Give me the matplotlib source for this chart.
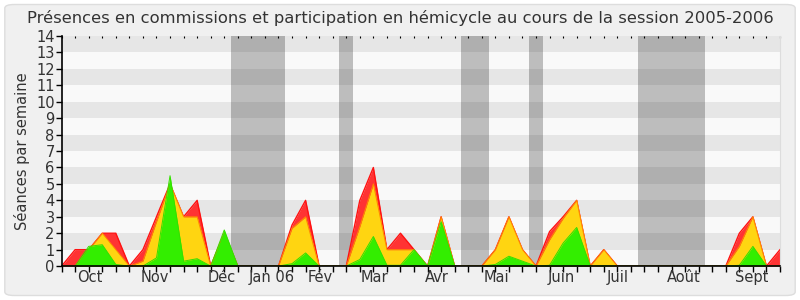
#!/usr/bin/env python3

import numpy as np
import matplotlib
matplotlib.use("Agg")
import matplotlib.pyplot as plt
from matplotlib.patches import FancyBboxPatch

# semaines de la session (0 .. 53)
weeks = np.arange(54)

# présences (rouge), participations (jaune), interventions (vert)
red = [0, 1, 1, 2, 2, 0, 1, 3, 5, 3,
       4, 0, 2, 0, 0, 0, 0, 2.5, 4, 0,
       0, 0, 4, 6, 1, 2, 1, 0, 3, 0,
       0, 0, 1, 3, 1, 0, 2.1, 3, 4, 0,
       1, 0, 0, 0, 0, 0, 0, 0, 0, 0,
       2, 3, 0, 1]
yellow = [0, 0, 1, 2, 1, 0, 0.3, 2.7, 5, 3,
          3, 0, 2, 0, 0, 0, 0, 2.3, 3, 0,
          0, 0, 2.4, 5, 1, 1, 1, 0, 3, 0,
          0, 0, 1, 3, 1, 0, 1.6, 2.9, 4, 0,
          1, 0, 0, 0, 0, 0, 0, 0, 0, 0,
          1.2, 3, 0, 0]
green = [0, 0, 1.2, 1.3, 0.1, 0, 0, 0.5, 5.5, 0.3,
         0.45, 0, 2.2, 0, 0, 0, 0, 0.15, 0.8, 0,
         0, 0, 0.4, 1.8, 0.05, 0.05, 1, 0, 2.7, 0,
         0, 0, 0.1, 0.6, 0.3, 0, 0.05, 1.4, 2.35, 0,
         0.03, 0, 0, 0, 0, 0, 0, 0, 0, 0,
         0.05, 1.2, 0, 0]

# vacances parlementaires
holidays = [(12.5, 16.5), (20.5, 21.5), (29.5, 31.5), (34.5, 35.5), (42.5, 47.5)]

months = ["Oct", "Nov", "Déc", "Jan 06", "Fév", "Mar", "Avr", "Mai",
          "Juin", "Juil", "Août", "Sept"]
month_pos = [2.1, 6.9, 11.8, 15.5, 19.1, 23.1, 27.7, 32.1, 36.9, 41.05, 45.9, 50.9]

txt = "#333333"

fig = plt.figure(figsize=(8, 3), dpi=100, facecolor="white")
fig.patches.append(FancyBboxPatch((0.006, 0.015), 0.988, 0.97, boxstyle="round,pad=0,rounding_size=0.012",
                                  transform=fig.transFigure, facecolor="#f0f0f0",
                                  edgecolor="#dddddd", linewidth=1, zorder=-10))
ax = fig.add_axes([0.077, 0.113, 0.898, 0.767])
ax.set_facecolor("#f9f9f9")

for k in range(1, 14, 2):
    ax.axhspan(k, k + 1, color="#e6e6e6", lw=0, zorder=0)
for a, b in holidays:
    ax.axvspan(a, b, color="black", alpha=0.24, lw=0, zorder=1)

ax.fill_between(weeks, red, color="#ff3333", lw=0, zorder=2)
ax.plot(weeks, red, color="#ff1111", lw=1, zorder=2.1)
ax.fill_between(weeks, yellow, color="#ffd511", lw=0, zorder=3)
ax.plot(weeks, yellow, color="#ff8800", lw=0.7, zorder=3.1)
ax.fill_between(weeks, green, color="#33ee00", lw=0, zorder=4)
ax.plot(weeks, green, color="#33e000", lw=0.7, zorder=4.1)

ax.set_xlim(0, 53)
ax.set_ylim(0, 14)
ax.set_yticks(range(15))
ax.xaxis.remove_overlapping_locs = False
ax.set_xticks(weeks)
ax.set_xticklabels([])
ax.set_xticks(month_pos, months, minor=True)
ax.tick_params(axis="x", which="minor", length=0, pad=3, labelsize=10.5, labelcolor=txt)
ax.tick_params(axis="x", which="major", length=4, width=1, color="black")
ax.tick_params(axis="y", length=4, width=1, pad=1, labelsize=10.5, labelcolor=txt)

top = ax.secondary_xaxis("top")
top.set_xticks(weeks)
top.set_xticklabels([])
top.tick_params(length=1.5, width=0.8, direction="in")
top.spines["top"].set_visible(False)

ax.spines["top"].set_visible(False)
ax.spines["right"].set_color("#dddddd")
ax.spines["left"].set_linewidth(1.2)
ax.spines["bottom"].set_linewidth(1.2)
ax.spines["bottom"].set_zorder(10)
ax.spines["left"].set_zorder(10)

ax.set_ylabel("Séances par semaine", fontsize=10.5, color=txt, labelpad=4)
fig.text(0.5, 0.94, "Présences en commissions et participation en hémicycle au cours de la session 2005-2006",
         ha="center", va="center", fontsize=11.8, color=txt)

fig.savefig("out.png", dpi=100, facecolor=fig.get_facecolor())
